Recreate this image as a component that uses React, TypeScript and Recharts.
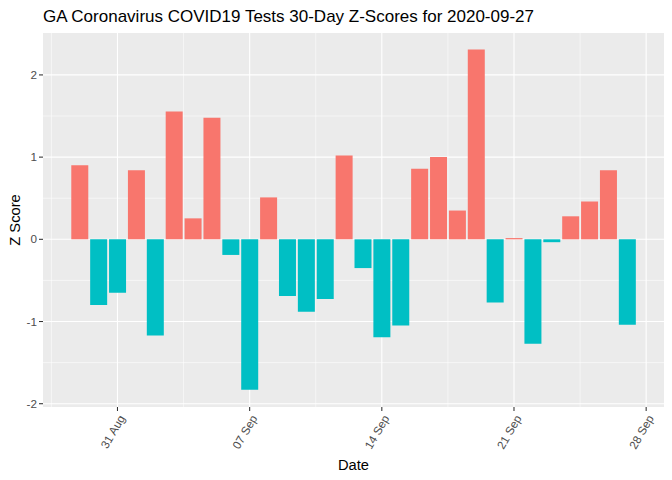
import React from "react";
import { BarChart, Bar, XAxis, YAxis, CartesianGrid, Cell } from "recharts";

// 30-day window of GA test z-scores
const dates = [
  "2020-08-29", "2020-08-30", "2020-08-31", "2020-09-01", "2020-09-02",
  "2020-09-03", "2020-09-04", "2020-09-05", "2020-09-06", "2020-09-07",
  "2020-09-08", "2020-09-09", "2020-09-10", "2020-09-11", "2020-09-12",
  "2020-09-13", "2020-09-14", "2020-09-15", "2020-09-16", "2020-09-17",
  "2020-09-18", "2020-09-19", "2020-09-20", "2020-09-21", "2020-09-22",
  "2020-09-23", "2020-09-24", "2020-09-25", "2020-09-26", "2020-09-27",
];

const zScores = [
  0.9, -0.8, -0.65, 0.84, -1.17, 1.555, 0.255, 1.48, -0.19, -1.83,
  0.51, -0.69, -0.88, -0.725, 1.02, -0.35, -1.19, -1.05, 0.86, 1.0,
  0.35, 2.31, -0.77, 0.015, -1.27, -0.035, 0.28, 0.46, 0.84, -1.04,
];

const xTickDates = ["2020-08-31", "2020-09-07", "2020-09-14", "2020-09-21", "2020-09-28"];
const xTickLabels = ["31 Aug", "07 Sep", "14 Sep", "21 Sep", "28 Sep"];
const yTicks = [-2, -1, 0, 1, 2];
const yMinor = [-1.5, -0.5, 0.5, 1.5];

const DAY = 86400000;
const start = Date.parse(dates[0]);
const dayIndex = (d: string) => Math.round((Date.parse(d) - start) / DAY);

const data = dates.map((d, i) => ({ day: dayIndex(d), z: zScores[i] }));
const xTicks = xTickDates.map(dayIndex);
const xMinor = [xTicks[0] - 3.5, ...xTicks.slice(0, -1).map((t) => t + 3.5)];
const labelFor = (v: number) => xTickLabels[xTicks.indexOf(v)] ?? "";

const POS = "#F8766D";
const NEG = "#00BFC4";
const FONT = "'Liberation Sans', Arial, sans-serif";

function DateTick(props: any) {
  const { x, y, payload } = props;
  const ax = x + 8;
  const ay = y + 5;
  return (
    <text
      x={ax}
      y={ay}
      transform={`rotate(-60, ${ax}, ${ay})`}
      textAnchor="end"
      fontSize={11.7}
      fontFamily={FONT}
      fill="#4D4D4D"
    >
      {labelFor(payload.value)}
    </text>
  );
}

export default function App() {
  return (
    <div style={{ position: "absolute", left: 0, top: 0, width: 672, height: 480, background: "#fff" }}>
      <BarChart
        width={672}
        height={480}
        data={data}
        margin={{ top: 33, right: 8, bottom: 0, left: 0 }}
      >
        <CartesianGrid
          fill="#EBEBEB"
          stroke="#FFFFFF"
          strokeWidth={0.55}
          horizontalValues={yMinor}
          verticalValues={xMinor}
        />
        <CartesianGrid
          stroke="#FFFFFF"
          strokeWidth={1.1}
          horizontalValues={yTicks}
          verticalValues={xTicks}
        />
        <XAxis
          dataKey="day"
          type="number"
          domain={[-1.945, 30.945]}
          ticks={xTicks}
          interval={0}
          height={73}
          axisLine={false}
          tickLine={{ stroke: "#333333", strokeWidth: 1.07 }}
          tickSize={4}
          tick={<DateTick />}
          allowDataOverflow
        />
        <YAxis
          type="number"
          domain={[-2.04, 2.51]}
          ticks={yTicks}
          interval={0}
          width={43}
          axisLine={false}
          tickLine={{ stroke: "#333333", strokeWidth: 1.07 }}
          tickSize={4}
          tickMargin={2}
          tick={{ fill: "#4D4D4D", fontSize: 11.7, fontFamily: FONT }}
          allowDataOverflow
        />
        <Bar dataKey="z" barSize={17} isAnimationActive={false}>
          {data.map((d, i) => (
            <Cell key={`c-${i}`} fill={d.z >= 0 ? POS : NEG} />
          ))}
        </Bar>
      </BarChart>
      <svg
        width={672}
        height={480}
        style={{ position: "absolute", left: 0, top: 0, pointerEvents: "none" }}
      >
        <text x={43} y={22} fontSize={17} fontFamily={FONT} fill="#000">
          GA Coronavirus COVID19 Tests 30-Day Z-Scores for 2020-09-27
        </text>
        <text x={353.5} y={470} textAnchor="middle" fontSize={14.7} fontFamily={FONT} fill="#000">
          Date
        </text>
        <text
          x={20}
          y={220}
          transform="rotate(-90, 20, 220)"
          textAnchor="middle"
          fontSize={14.7}
          fontFamily={FONT}
          fill="#000"
        >
          Z Score
        </text>
      </svg>
    </div>
  );
}
